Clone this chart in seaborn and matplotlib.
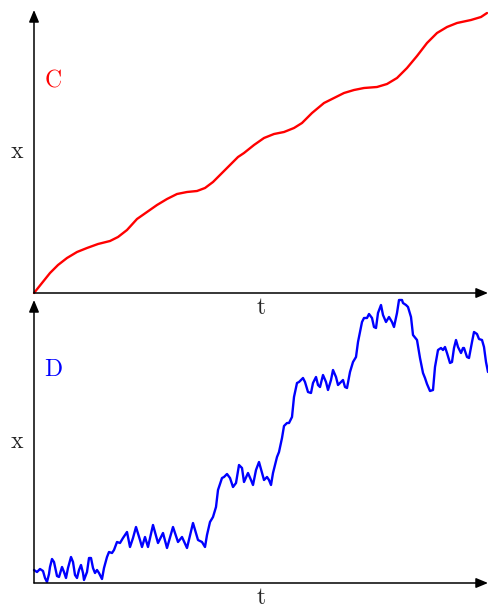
import matplotlib
matplotlib.use("Agg")
import matplotlib.pyplot as plt
import numpy as np
import pandas as pd
import seaborn as sns

# curve C (top panel), arbitrary units
c_t = [0, 8, 16, 24, 33, 43, 53, 64, 76, 84, 93, 103, 113, 123, 133, 143, 153, 163,
       171, 179, 188, 196, 204, 210, 220, 230, 240, 250, 260, 268, 278, 290, 300,
       310, 320, 330, 343, 353, 363, 373, 383, 393, 403, 413, 423, 437, 447, 453]
c_x = [0, 10, 20, 28, 35, 41, 45, 49, 52, 56, 63, 74, 81, 88, 94, 99, 101, 102,
       105, 111, 120, 128, 136, 140, 148, 155, 159, 161, 165, 170, 180, 190, 195,
       200, 203, 205, 206, 209, 215, 225, 237, 250, 260, 266, 270, 273, 276, 280]

# curve D (bottom panel)
d_t = [0, 3, 6, 9, 11, 13, 15, 16, 18, 20, 23, 25, 28, 30, 32, 34, 37, 39, 41, 43,
       45, 47, 49, 50, 53, 55, 57, 59, 61, 63, 65, 68, 70, 73, 75, 78, 80, 83, 86, 89,
       93, 96, 99, 102, 106, 108, 111, 114, 119, 124, 129, 133, 139, 144, 148, 153,
       159, 164, 168, 171, 173, 176, 179, 182, 184, 188, 190, 193, 196, 199, 202,
       205, 208, 210, 214, 217, 219, 222, 225, 228, 230, 233, 235, 237, 239, 243,
       245, 248, 250, 253, 255, 258, 260, 263, 265, 269, 271, 274, 277, 279, 282,
       284, 286, 289, 292, 294, 297, 299, 302, 304, 307, 309, 311, 313, 316, 319,
       322, 324, 328, 330, 333, 335, 338, 340, 342, 344, 347, 349, 352, 355, 358,
       360, 363, 365, 368, 369, 372, 374, 377, 379, 383, 386, 389, 391, 393, 396,
       399, 401, 404, 407, 409, 411, 413, 416, 418, 420, 422, 424, 427, 429, 430,
       433, 435, 438, 440, 443, 445, 448, 450, 452, 454]
d_x = [13, 11, 14, 12, 5, 1, 9, 16, 24, 21, 7, 6, 16, 11, 5, 15, 26, 21, 8, 5,
       13, 18, 10, 3, 11, 25, 25, 15, 10, 13, 10, 4, 15, 26, 31, 30, 33, 41, 40, 45,
       51, 36, 45, 56, 43, 36, 46, 36, 58, 40, 50, 35, 56, 41, 46, 35,
       60, 43, 41, 36, 48, 61, 66, 76, 93, 105, 106, 109, 105, 96, 100,
       118, 115, 101, 110, 103, 98, 113, 121, 110, 103, 106, 103, 98, 110, 126,
       131, 145, 157, 160, 160, 166, 186, 200, 201, 205, 201, 191, 190, 200, 206,
       198, 196, 208, 201, 193, 203, 213, 206, 198, 201, 203, 196, 195, 211, 221,
       226, 241, 261, 265, 265, 269, 265, 256, 255, 270, 278, 268, 261, 266, 261,
       256, 270, 283, 283, 280, 278, 276, 266, 248, 243, 225, 210, 205, 199, 192,
       193, 216, 233, 235, 233, 236, 230, 220, 221, 235, 243, 236, 230, 235, 235,
       226, 225, 241, 251, 249, 244, 243, 236, 221, 211]

sns.set_theme(style="white")
plt.rcParams["mathtext.fontset"] = "cm"
plt.rcParams["font.family"] = ["DejaVu Serif"]

W, H = 488, 608
fig = plt.figure(figsize=(W / 100, H / 100), dpi=100)


def panel(bottom_px, top_px, t, x, color, name):
    h = bottom_px - top_px
    ax = fig.add_axes([34 / W, (H - bottom_px) / H, (W - 34) / W, h / H])
    df = pd.DataFrame({"t": t, "x": x})
    sns.lineplot(data=df, x="t", y="x", color=color, lw=1.7, estimator=None,
                 sort=False, ax=ax, clip_on=False, solid_capstyle="round",
                 solid_joinstyle="round")
    ax.set_xlim(0, 454)
    ax.set_ylim(0, 283)
    for s in ax.spines.values():
        s.set_visible(False)
    ax.set_xticks([])
    ax.set_yticks([])
    ax.set_xlabel("")
    ax.set_ylabel("")
    ax.patch.set_alpha(0)
    arrow = dict(arrowstyle="-|>,head_length=0.6,head_width=0.25", color="black", lw=1.1,
                 shrinkA=0, shrinkB=0)
    ax.annotate("", xy=(1, 0), xytext=(0, 0), xycoords="axes fraction", arrowprops=arrow)
    ax.annotate("", xy=(0, 1), xytext=(0, 0), xycoords="axes fraction", arrowprops=arrow)
    ax.text(-17 / (W - 34), 141 / h, r"$\mathrm{x}$", fontsize=17,
            ha="center", va="center", transform=ax.transAxes)
    ax.text(0.5, -15 / h, r"$\mathrm{t}$", fontsize=17,
            ha="center", va="center", transform=ax.transAxes)
    ax.text(19 / (W - 34), 213 / h, r"$\mathrm{%s}$" % name,
            fontsize=17, color=color, ha="center", va="center", transform=ax.transAxes)
    return ax


panel(293, 10, c_t, c_x, "red", "C")
panel(583, 300, d_t, d_x, "blue", "D")

fig.savefig("out.png", dpi=100)
